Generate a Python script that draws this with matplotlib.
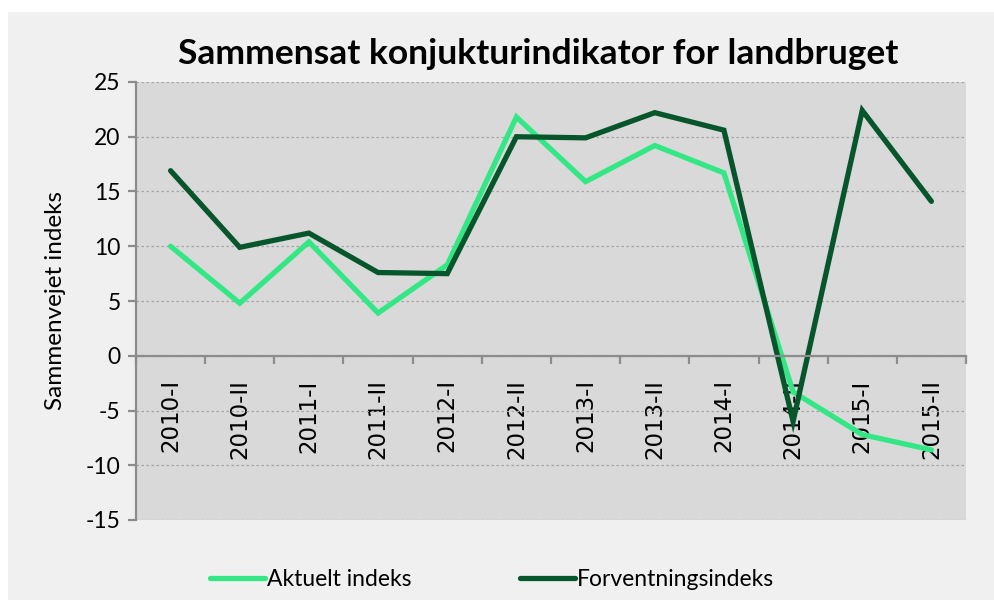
import matplotlib
matplotlib.use("Agg")
import matplotlib.pyplot as plt
from matplotlib.patches import Rectangle

categories = ["2010-I", "2010-II", "2011-I", "2011-II", "2012-I", "2012-II",
              "2013-I", "2013-II", "2014-I", "2014-II", "2015-I", "2015-II"]
aktuelt = [10.0, 4.8, 10.4, 3.9, 8.3, 21.8, 15.9, 19.2, 16.7, -3.3, -7.2, -8.6]
forventning = [16.9, 9.9, 11.2, 7.6, 7.5, 20.0, 19.9, 22.2, 20.6, -6.0, 22.4, 14.1]
yticks = [25, 20, 15, 10, 5, 0, -5, -10, -15]

light = "#33e884"
dark = "#06552b"
axis_grey = "#8c8c8c"

W, H = 994, 600
fig = plt.figure(figsize=(W / 100, H / 100), dpi=100, facecolor="white")
# chart area background (white margin top/left like the screenshot)
fig.patches.append(Rectangle((8 / W, 0), 1, 1 - 12 / H, transform=fig.transFigure,
                             facecolor="#f0f0f0", edgecolor="none", zorder=-10))

ax = fig.add_axes([136 / W, 1 - 520 / H, (966 - 136) / W, (520 - 82) / H])
ax.set_facecolor("#d9d9d9")
ax.set_axisbelow(True)

x = list(range(len(categories)))
ax.plot(x, aktuelt, color=light, lw=3.8, solid_capstyle="round", solid_joinstyle="miter",
        label="Aktuelt indeks")
ax.plot(x, forventning, color=dark, lw=3.8, solid_capstyle="round", solid_joinstyle="miter",
        label="Forventningsindeks")

ax.set_xlim(-0.5, len(categories) - 0.5)
ax.set_ylim(-15, 25)
ax.set_yticks(yticks)
ax.set_yticklabels([str(v) for v in yticks], fontfamily="Lato", fontsize=16.5)
ax.grid(axis="y", color="#a6a6a6", ls=(0, (2, 2)), lw=0.9)

for s in ["top", "right"]:
    ax.spines[s].set_visible(False)
ax.spines["bottom"].set_position(("data", 0))
ax.spines["bottom"].set_color(axis_grey)
ax.spines["bottom"].set_linewidth(1.6)
ax.spines["left"].set_color(axis_grey)
ax.spines["left"].set_linewidth(1.6)

# tick marks between categories, labels at category centres
ax.set_xticks([i - 0.5 for i in range(len(categories) + 1)])
ax.set_xticklabels([])
ax.tick_params(axis="x", which="major", direction="out", length=6, width=1.6, color=axis_grey)
ax.set_xticks(x, minor=True)
ax.set_xticklabels(categories, minor=True, rotation=90, fontsize=16.5,
                   fontfamily="DejaVu Sans", va="top")
ax.tick_params(axis="x", which="minor", length=0, pad=17)
ax.tick_params(axis="y", direction="out", length=6, width=1.6, color=axis_grey, pad=5)

ax.set_ylabel("Sammenvejet indeks", fontfamily="Lato", fontsize=17.5, labelpad=14)

fig.text(538 / W, 1 - 54 / H, "Sammensat konjukturindikator for landbruget",
         ha="center", va="center", fontfamily="Lato", fontweight="bold", fontsize=25.5)

fig.legend(loc="center", bbox_to_anchor=(492 / W, 1 - 580 / H), ncol=2, frameon=False,
           prop={"family": "Lato", "size": 16.5}, handlelength=2.4, handletextpad=0.1,
           columnspacing=4.7)

fig.savefig("out.png", dpi=100, facecolor=fig.get_facecolor())
